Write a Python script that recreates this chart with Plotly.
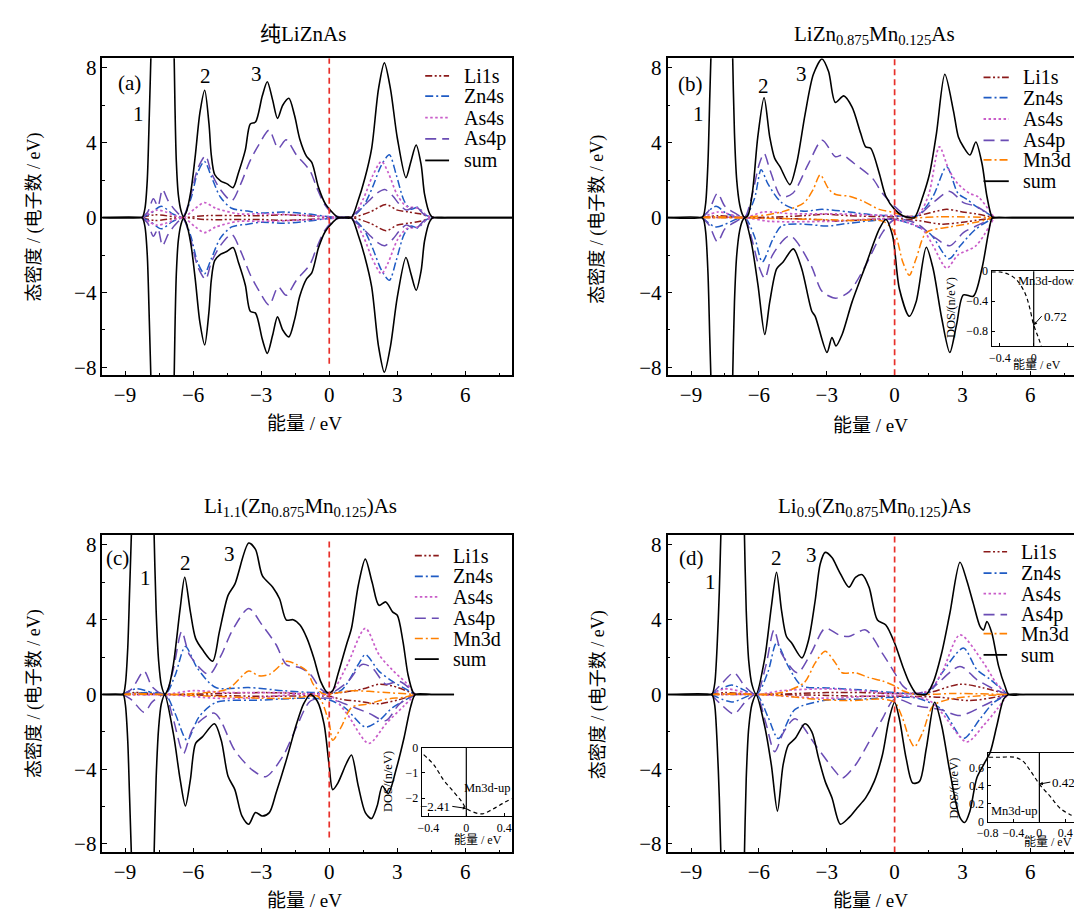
import plotly.graph_objects as go

W, H = 1074, 918
SERIF = "Liberation Serif, Noto Sans CJK SC, serif"

# ---------------- data: (energy eV, DOS) pairs ----------------
# (a) pure LiZnAs (spin symmetric: spin-down = mirror of spin-up)
A_SUM_UP = [(-10.1, 0), (-8.3, 0), (-8.22, 0.05), (-8.12, 0.5), (-8.02, 2.0), (-7.93, 5.5), (-7.86, 8.6),
            (-7.7, 16), (-7.35, 22), (-7.0, 16), (-6.85, 9.5), (-6.8, 6.0), (-6.74, 3.0), (-6.65, 1.2),
            (-6.53, 0.35), (-6.43, 0.05), (-6.3, 0.3), (-6.1, 1.4), (-5.9, 3.35), (-5.7, 5.6), (-5.49, 6.8),
            (-5.3, 5.0), (-5.2, 3.35), (-5.05, 2.3), (-4.78, 1.95), (-4.5, 1.8), (-4.24, 1.6), (-4.0, 2.4),
            (-3.7, 3.6), (-3.48, 5.0), (-3.25, 5.1), (-2.95, 6.5), (-2.73, 7.25), (-2.5, 6.3), (-2.28, 5.3),
            (-2.05, 6.0), (-1.78, 6.37), (-1.53, 5.46), (-1.3, 4.2), (-1.0, 3.27), (-0.77, 2.95), (-0.47, 1.6),
            (-0.17, 0.73), (0.06, 0.38), (0.36, 0.03), (0.6, 0), (0.97, 0), (1.27, 0.9), (1.57, 2.1),
            (1.87, 3.7), (2.17, 6.86), (2.43, 8.26), (2.7, 6.86), (3.0, 4.25), (3.38, 2.13), (3.6, 3.0),
            (3.83, 3.88), (4.05, 2.83), (4.2, 1.25), (4.43, 0.2), (4.58, 0), (5.2, 0), (8.1, 0)]
A_LI_UP = [(-8.25, 0), (-7.7, 0.15), (-6.45, 0), (-5.5, 0.1), (-3.0, 0.1), (-2.0, 0.15), (-1.0, 0.1),
           (0, 0.02), (1.0, 0), (1.8, 0.3), (2.5, 0.7), (3.0, 0.4), (3.5, 0.3), (4.0, 0.2), (4.4, 0.05), (4.6, 0)]
A_ZN_UP = [(-8.25, 0), (-7.9, 0.2), (-7.4, 0.6), (-6.9, 0.2), (-6.45, 0.05), (-6.1, 1.0), (-5.8, 2.4),
           (-5.5, 3.0), (-5.2, 2.2), (-4.8, 1.1), (-4.3, 0.5), (-3.6, 0.35), (-3.0, 0.25), (-2.0, 0.3),
           (-1.0, 0.2), (0, 0.05), (1.0, 0.05), (1.5, 0.6), (1.9, 1.6), (2.3, 2.8), (2.65, 3.35), (2.95, 2.3),
           (3.3, 0.9), (3.6, 0.45), (3.9, 0.55), (4.3, 0.1), (4.6, 0)]
A_AS4S_UP = [(-8.25, 0), (-7.6, 0.4), (-7.2, 0.3), (-6.45, 0), (-5.9, 0.5), (-5.5, 0.8), (-5.0, 0.5),
             (-4.0, 0.2), (-3.0, 0.2), (-1.5, 0.15), (0, 0.05), (1.0, 0.05), (1.5, 1.0), (1.9, 2.2), (2.3, 3.0),
             (2.6, 2.4), (3.0, 1.2), (3.4, 0.6), (3.9, 0.5), (4.3, 0.1), (4.6, 0)]
A_AS4P_UP = [(-8.25, 0), (-8.0, 0.3), (-7.75, 1.0), (-7.55, 0.6), (-7.35, 1.5), (-7.1, 0.9), (-6.8, 0.4),
             (-6.45, 0.05), (-6.1, 1.2), (-5.8, 2.6), (-5.45, 3.3), (-5.2, 2.4), (-4.8, 1.5), (-4.3, 0.9),
             (-3.9, 1.8), (-3.5, 3.0), (-3.1, 3.9), (-2.65, 4.67), (-2.25, 3.7), (-1.9, 4.15), (-1.45, 3.35),
             (-0.85, 2.5), (-0.55, 1.6), (-0.2, 0.7), (0.2, 0.15), (0.6, 0), (1.0, 0.1), (1.4, 0.5),
             (1.75, 0.9), (2.1, 1.3), (2.45, 1.5), (2.8, 1.15), (3.1, 0.7), (3.4, 0.4), (3.8, 0.6),
             (4.2, 0.15), (4.6, 0)]

# (b) LiZn0.875Mn0.125As
B_SUM_UP = [(-10.1, 0), (-8.55, 0), (-8.45, 0.1), (-8.35, 0.8), (-8.25, 3.0), (-8.17, 6.5), (-8.12, 8.6),
            (-7.9, 18), (-7.5, 24), (-7.25, 15), (-7.16, 8.6), (-7.08, 4.5), (-6.98, 2.0), (-6.85, 0.7),
            (-6.72, 0.15), (-6.64, 0.02), (-6.49, 0.1), (-6.27, 1.5), (-6.05, 4.3), (-5.77, 6.4), (-5.52, 4.3),
            (-5.3, 3.16), (-5.07, 2.72), (-4.63, 1.76), (-4.33, 2.9), (-3.96, 5.5), (-3.59, 7.65), (-3.21, 8.47),
            (-2.92, 7.8), (-2.62, 6.15), (-2.25, 6.5), (-1.88, 5.9), (-1.5, 4.5), (-1.28, 3.78), (-1.06, 3.7),
            (-0.68, 2.37), (-0.39, 1.14), (0, 0.44), (0.36, 0.1), (0.65, 0), (0.88, 0), (1.25, 1.14),
            (1.55, 2.37), (1.85, 4.5), (2.22, 7.65), (2.6, 5.7), (2.82, 4.3), (3.04, 3.78), (3.33, 3.34),
            (3.59, 4.04), (3.86, 2.9), (4.08, 1.14), (4.3, 0.05), (4.4, 0), (5.2, 0), (8.1, 0)]
B_SUM_DN = [(-10.1, 0), (-8.55, 0), (-8.45, -0.1), (-8.35, -0.8), (-8.25, -3.0), (-8.17, -6.5), (-8.12, -8.6),
            (-7.9, -18), (-7.5, -24), (-7.25, -15), (-7.16, -8.6), (-7.08, -4.5), (-6.98, -2.0), (-6.85, -0.7),
            (-6.72, -0.15), (-6.64, -0.02), (-6.34, -1.3), (-6.04, -3.6), (-5.74, -6.24), (-5.52, -4.5),
            (-5.21, -2.72), (-4.93, -2.37), (-4.48, -1.67), (-4.11, -2.72), (-3.66, -5.0), (-3.51, -5.27),
            (-2.99, -7.2), (-2.77, -6.4), (-2.59, -6.85), (-2.32, -6.24), (-1.88, -4.5), (-1.28, -2.55),
            (-0.68, -0.62), (-0.39, -0.1), (-0.09, -0.97), (0.21, -3.8), (0.65, -5.27), (0.95, -4.5),
            (1.4, -1.58), (1.7, -2.72), (2.08, -5.36), (2.44, -7.2), (2.74, -5.7), (3.04, -4.13), (3.48, -4.2),
            (3.86, -2.72), (4.15, -0.8), (4.3, -0.05), (4.4, 0), (5.2, 0), (8.1, 0)]
B_MN_UP = [(-8.5, 0), (-8.0, 0.05), (-6.6, 0.02), (-5.0, 0.3), (-4.0, 0.8), (-3.6, 1.5), (-3.29, 2.28),
           (-2.9, 1.5), (-2.6, 1.23), (-2.0, 1.14), (-1.4, 0.88), (-0.68, 0.44), (0, 0.26), (0.65, 0),
           (2.0, 0.05), (4.4, 0)]
B_MN_DN = [(-8.5, 0), (-5, -0.05), (-2, -0.15), (-0.5, -0.2), (0, -0.8), (0.36, -2.37), (0.65, -3.08),
           (0.95, -2.2), (1.4, -0.8), (2.44, -0.5), (3.6, -0.25), (4.4, 0)]
B_AS4P_UP = [(-8.5, 0), (-8.2, 0.4), (-7.83, 1.3), (-7.5, 0.6), (-7.0, 0.2), (-6.64, 0), (-6.3, 1.2),
             (-6.0, 2.8), (-5.77, 3.43), (-5.5, 2.5), (-5.0, 1.1), (-4.5, 1.3), (-3.8, 2.9), (-3.2, 4.13),
             (-2.62, 3.25), (-2.3, 3.34), (-1.8, 2.9), (-0.98, 2.1), (-0.54, 1.3), (0, 0.6), (0.5, 0.1),
             (0.9, 0), (1.7, 0.8), (2.44, 1.4), (3.04, 0.8), (3.6, 0.6), (4.4, 0)]
B_AS4P_DN = [(-8.5, 0), (-8.2, -0.4), (-7.83, -1.3), (-7.5, -0.6), (-7.0, -0.2), (-6.64, 0), (-6.3, -1.2),
             (-6.0, -2.6), (-5.74, -3.25), (-5.4, -2.0), (-4.63, -0.97), (-3.7, -2.55), (-3.2, -3.95),
             (-2.6, -4.3), (-2.0, -3.95), (-1.28, -2.55), (-0.54, -0.8), (0, -0.1), (0.95, -0.3), (1.7, -1.0),
             (2.44, -1.5), (3.04, -0.8), (3.6, -0.45), (4.4, 0)]
B_ZN_UP = [(-8.5, 0), (-7.9, 0.6), (-7.4, 0.2), (-6.64, 0), (-6.2, 1.0), (-5.9, 2.55), (-5.6, 1.8),
           (-5.0, 0.8), (-4.1, 0.35), (-3.2, 0.44), (-2.0, 0.3), (-1.0, 0.15), (0, 0.1), (1.0, 0.1),
           (1.7, 1.14), (2.3, 2.72), (2.8, 1.3), (3.2, 0.97), (3.6, 0.6), (4.0, 0.3), (4.4, 0)]
B_ZN_DN = [(-8.5, 0), (-7.9, -0.5), (-6.64, 0), (-6.2, -1.0), (-5.85, -2.37), (-5.4, -1.2), (-5.0, -0.45),
           (-4.0, -0.35), (-3.0, -0.45), (-2.0, -0.3), (0, -0.1), (0.95, -0.45), (1.6, -0.9), (2.4, -2.2),
           (2.9, -1.5), (3.6, -0.6), (4.4, 0)]
B_AS4S_UP = [(-8.5, 0), (-7.8, 0.3), (-6.64, 0), (-5.8, 0.3), (-4.5, 0.2), (-2.6, 0.2), (0, 0.1), (1.0, 0.1),
             (1.5, 1.2), (1.98, 3.78), (2.4, 2.55), (2.8, 1.8), (3.3, 1.3), (3.7, 1.1), (4.4, 0)]
B_AS4S_DN = [(-8.5, 0), (-6.64, 0), (-5.5, -0.2), (-3, -0.2), (0, -0.1), (1.2, -0.6), (1.7, -1.5),
             (2.3, -2.7), (2.8, -2.0), (3.6, -1.5), (4.4, 0)]
B_LI_UP = [(-8.5, 0), (-7.8, 0.1), (-6.64, 0), (-4, 0.1), (-3.0, 0.18), (-2, 0.1), (0, 0.05), (1.0, 0.1),
           (2.3, 0.44), (3.0, 0.3), (3.6, 0.2), (4.4, 0)]
B_LI_DN = [(-8.5, 0), (-6.64, 0), (-3.5, -0.1), (-2.5, -0.18), (0, -0.05), (1.0, -0.15), (2.1, -0.35),
           (3.0, -0.25), (4.4, 0)]

# (c) Li1.1(Zn0.875Mn0.125)As
C_SUM_UP = [(-10.1, 0), (-9.12, 0), (-9.06, 0.05), (-8.98, 0.6), (-8.88, 2.5), (-8.8, 5.5), (-8.72, 8.6),
            (-8.5, 18), (-8.2, 24), (-7.85, 16), (-7.72, 8.6), (-7.63, 4.5), (-7.52, 1.8), (-7.4, 0.5),
            (-7.25, 0.02), (-7.1, 0.3), (-6.87, 1.6), (-6.57, 4.6), (-6.37, 6.27), (-6.12, 4.42), (-5.89, 3.0),
            (-5.59, 2.4), (-5.14, 1.78), (-4.84, 3.36), (-4.46, 5.3), (-4.16, 5.9), (-3.55, 8.1), (-3.25, 7.76),
            (-2.95, 6.36), (-2.49, 5.74), (-2.19, 5.12), (-1.89, 3.98), (-1.59, 4.0), (-1.28, 3.7), (-0.98, 3.0),
            (-0.68, 1.95), (-0.38, 0.7), (-0.08, 0.1), (0.15, 0.2), (0.38, 1.07), (0.76, 2.66), (0.98, 3.54),
            (1.28, 5.83), (1.59, 7.24), (1.89, 6.0), (2.19, 4.77), (2.49, 4.95), (2.79, 4.42), (3.0, 4.24),
            (3.25, 2.83), (3.47, 1.07), (3.7, 0.1), (3.8, 0), (4.5, 0), (5.5, 0)]
C_SUM_DN = [(-10.1, 0), (-9.12, 0), (-9.06, -0.05), (-8.98, -0.6), (-8.88, -2.5), (-8.8, -5.5), (-8.72, -8.6),
            (-8.5, -18), (-8.2, -24), (-7.85, -16), (-7.72, -8.6), (-7.63, -4.5), (-7.52, -1.8), (-7.4, -0.5),
            (-7.25, -0.02), (-6.87, -2.1), (-6.57, -4.56), (-6.34, -5.97), (-6.12, -4.56), (-5.89, -2.62),
            (-5.59, -2.27), (-5.06, -1.57), (-4.76, -2.45), (-4.46, -4.38), (-4.16, -5.09), (-3.85, -6.5),
            (-3.55, -6.94), (-3.25, -6.32), (-2.95, -6.5), (-2.64, -6.32), (-2.34, -5.26), (-1.89, -3.5),
            (-1.44, -1.57), (-1.13, -0.5), (-0.83, 0), (-0.53, -0.35), (-0.23, -1.57), (0.0, -3.86),
            (0.15, -5.09), (0.38, -4.74), (0.76, -3.68), (0.98, -3.24), (1.28, -4.9), (1.59, -6.32),
            (1.86, -6.64), (2.11, -5.97), (2.34, -4.9), (2.6, -5.3), (2.95, -4.0), (3.3, -2.3), (3.6, -0.6),
            (3.8, 0), (4.5, 0), (5.5, 0)]
C_MN_UP = [(-9.1, 0), (-8.5, 0.05), (-7.25, 0), (-6.0, 0.05), (-4.46, 0.3), (-3.55, 1.25), (-3.1, 1.0),
           (-2.64, 1.07), (-1.88, 1.78), (-1.44, 1.6), (-0.98, 1.25), (-0.68, 0.5), (-0.23, 0.02), (0.98, 0.2),
           (2.5, 0.1), (3.8, 0)]
C_MN_DN = [(-9.1, 0), (-7.25, 0), (-5.0, -0.1), (-3.0, -0.2), (-1.5, -0.2), (-0.5, -0.1), (0.0, -1.57),
           (0.15, -2.45), (0.53, -1.74), (0.98, -0.7), (1.74, -0.5), (2.5, -0.25), (3.3, -0.15), (3.8, 0)]
C_AS4P_UP = [(-9.1, 0), (-8.7, 0.3), (-8.16, 1.25), (-7.8, 0.4), (-7.25, 0), (-6.9, 1.2), (-6.5, 3.36),
             (-6.15, 2.1), (-5.3, 1.07), (-4.76, 2.1), (-4.3, 3.36), (-3.55, 4.6), (-2.95, 3.7), (-2.34, 2.66),
             (-1.89, 1.6), (-1.28, 1.43), (-0.83, 1.07), (-0.38, 0.3), (0.0, 0.05), (0.83, 0.7), (1.44, 1.6),
             (1.89, 1.43), (2.49, 0.55), (3.1, 0.7), (3.8, 0)]
C_AS4P_DN = [(-9.1, 0), (-8.7, -0.3), (-8.16, -0.95), (-7.8, -0.4), (-7.25, 0), (-6.9, -1.2), (-6.42, -3.15),
             (-6.0, -1.8), (-5.06, -1.0), (-4.16, -3.0), (-3.4, -4.03), (-2.8, -4.4), (-2.04, -3.3),
             (-1.44, -1.74), (-0.83, -0.35), (0.0, -0.2), (0.68, -0.5), (1.74, -1.0), (2.49, -1.4), (3.1, -0.5),
             (3.8, 0)]
C_ZN_UP = [(-9.1, 0), (-8.5, 0.3), (-7.25, 0), (-6.8, 1.0), (-6.34, 2.57), (-5.82, 1.42), (-5.0, 0.37),
           (-3.55, 0.37), (-2.0, 0.2), (-0.5, 0.1), (0.5, 0.2), (1.28, 1.6), (1.59, 2.13), (2.19, 1.25),
           (2.79, 0.7), (3.8, 0)]
C_ZN_DN = [(-9.1, 0), (-7.25, 0), (-6.8, -1.0), (-6.27, -2.45), (-5.74, -1.2), (-5.0, -0.43), (-3.0, -0.3),
           (-1.0, -0.2), (0.0, -0.3), (0.68, -0.7), (1.59, -1.74), (2.19, -1.4), (2.79, -0.7), (3.8, 0)]
C_AS4S_UP = [(-9.1, 0), (-7.25, 0), (-6.0, 0.2), (-4.5, 0.1), (-2.0, 0.1), (0, 0.05), (0.76, 1.5),
             (1.59, 3.54), (2.19, 2.13), (2.79, 1.3), (3.4, 0.6), (3.8, 0)]
C_AS4S_DN = [(-9.1, 0), (-7.25, 0), (-5, -0.2), (-3.5, -0.2), (0, -0.05), (0.76, -1.0), (1.74, -2.62),
             (2.5, -1.57), (3.3, -0.6), (3.8, 0)]
C_LI_UP = [(-9.1, 0), (-8.6, 0.1), (-7.25, 0), (-3.0, 0.1), (-1.0, 0.05), (0.5, 0.1), (1.5, 0.3),
           (2.19, 0.55), (2.8, 0.45), (3.8, 0)]
C_LI_DN = [(-9.1, 0), (-7.25, 0), (-3.0, -0.1), (0, -0.1), (0.5, -0.25), (1.5, -0.4), (2.19, -0.5),
           (3.0, -0.3), (3.8, 0)]

# (d) Li0.9(Zn0.875Mn0.125)As
D_SUM_UP = [(-10.1, 0), (-8.1, 0), (-8.05, 0.05), (-7.95, 0.6), (-7.85, 2.5), (-7.75, 5.5), (-7.68, 8.6),
            (-7.45, 18), (-7.1, 24), (-6.75, 16), (-6.64, 8.6), (-6.56, 4.5), (-6.45, 1.8), (-6.3, 0.5),
            (-6.12, 0.02), (-5.75, 1.87), (-5.45, 4.69), (-5.22, 6.54), (-5.0, 4.5), (-4.78, 3.1), (-4.55, 2.75),
            (-4.1, 1.96), (-3.8, 2.93), (-3.51, 5.04), (-3.29, 6.98), (-3.07, 7.6), (-2.77, 7.33), (-2.47, 6.63),
            (-2.02, 5.74), (-1.73, 6.27), (-1.43, 6.41), (-1.13, 5.74), (-0.76, 3.98), (-0.39, 3.72), (0.0, 2.75),
            (0.36, 1.5), (0.65, 0.63), (0.95, 0.05), (1.1, 0), (1.4, 0), (1.7, 0.63), (2.08, 2.22), (2.44, 4.33),
            (2.89, 7.07), (3.19, 6.1), (3.48, 4.86), (3.78, 3.63), (3.93, 3.45), (4.08, 3.9), (4.3, 3.28),
            (4.6, 1.5), (4.9, 0.37), (5.04, 0), (5.8, 0), (8.1, 0)]
D_SUM_DN = [(-10.1, 0), (-8.1, 0), (-8.05, -0.05), (-7.95, -0.6), (-7.85, -2.5), (-7.75, -5.5), (-7.68, -8.6),
            (-7.45, -18), (-7.1, -24), (-6.75, -16), (-6.64, -8.6), (-6.56, -4.5), (-6.45, -1.8), (-6.3, -0.5),
            (-6.12, -0.02), (-5.75, -1.66), (-5.45, -3.77), (-5.18, -6.24), (-4.93, -3.77), (-4.7, -2.71),
            (-4.4, -2.36), (-3.96, -1.57), (-3.66, -2.0), (-3.36, -3.42), (-3.07, -4.65), (-2.77, -5.53),
            (-2.4, -6.94), (-2.02, -6.59), (-1.65, -6.06), (-1.28, -5.53), (-0.9, -4.65), (-0.54, -3.24),
            (-0.24, -1.3), (0.0, -0.42), (0.21, -1.3), (0.51, -3.42), (0.8, -4.74), (1.1, -4.65), (1.4, -2.89),
            (1.77, -0.42), (2.08, -1.66), (2.44, -4.12), (2.89, -6.59), (3.1, -6.85), (3.33, -6.24),
            (3.63, -4.48), (3.93, -3.77), (4.23, -3.07), (4.52, -1.66), (4.82, -0.25), (5.04, 0), (5.8, 0),
            (8.1, 0)]
D_MN_UP = [(-8.1, 0), (-7.0, 0.05), (-6.12, 0), (-5.0, 0.1), (-4.0, 0.63), (-3.51, 1.69), (-3.07, 2.31),
           (-2.62, 1.69), (-2.32, 1.16), (-1.73, 1.16), (-1.13, 0.9), (-0.54, 0.72), (0, 0.46), (0.36, 0.2),
           (0.95, 0), (2.5, 0.05), (5.0, 0)]
D_MN_DN = [(-8.1, 0), (-6.12, 0), (-5, -0.07), (-3.5, -0.25), (-2.0, -0.33), (-0.54, -0.25), (0, -0.42),
           (0.36, -1.3), (0.65, -2.36), (0.88, -2.8), (1.25, -2.0), (1.7, -0.6), (2.44, -0.25), (3.8, -0.07),
           (5.0, 0)]
D_AS4P_UP = [(-8.1, 0), (-7.7, 0.5), (-7.1, 1.16), (-6.6, 0.4), (-6.12, 0), (-5.7, 1.5), (-5.33, 3.45),
             (-5.0, 2.2), (-4.3, 1.16), (-3.7, 2.2), (-3.07, 3.54), (-2.47, 3.19), (-2.02, 3.1), (-1.28, 3.45),
             (-0.54, 2.2), (0.0, 1.16), (0.36, 0.46), (0.9, 0.05), (1.6, 0.3), (2.89, 1.5), (3.63, 0.8),
             (4.37, 0.3), (5.0, 0)]
D_AS4P_DN = [(-8.1, 0), (-7.7, -0.5), (-7.1, -1.04), (-6.6, -0.4), (-6.12, 0), (-5.7, -1.5), (-5.3, -3.07),
             (-4.9, -2.0), (-4.4, -1.3), (-3.5, -2.71), (-2.62, -4.12), (-2.32, -4.48), (-1.73, -3.77),
             (-1.13, -2.54), (-0.54, -1.3), (0.0, -0.25), (0.95, -0.6), (2.0, -0.8), (2.89, -1.13),
             (3.93, -0.6), (4.52, -0.25), (5.0, 0)]
D_ZN_UP = [(-8.1, 0), (-7.2, 0.5), (-6.12, 0), (-5.6, 1.2), (-5.22, 2.75), (-4.7, 1.5), (-4.1, 0.46),
           (-3.0, 0.35), (-1.5, 0.25), (0, 0.1), (1.5, 0.1), (2.1, 1.16), (3.04, 2.48), (3.63, 1.34),
           (4.23, 0.8), (5.0, 0)]
D_ZN_DN = [(-8.1, 0), (-7.2, -0.4), (-6.12, 0), (-5.6, -1.2), (-5.14, -2.36), (-4.4, -0.8), (-3.0, -0.3),
           (-1.5, -0.25), (0, -0.15), (1.0, -0.2), (2.1, -0.8), (3.04, -2.36), (3.78, -1.3), (4.37, -0.45),
           (5.0, 0)]
D_AS4S_UP = [(-8.1, 0), (-7.5, 0.3), (-6.12, 0), (-5.0, 0.2), (-3.0, 0.3), (-1.0, 0.15), (0, 0.05),
             (1.5, 0.2), (2.1, 1.2), (2.89, 3.19), (3.93, 1.69), (4.5, 0.6), (5.0, 0)]
D_AS4S_DN = [(-8.1, 0), (-6.12, 0), (-3.0, -0.2), (0, -0.05), (1.5, -0.3), (2.1, -1.0), (3.19, -2.54),
             (3.93, -1.66), (4.52, -0.8), (5.0, 0)]
D_LI_UP = [(-8.1, 0), (-7.5, 0.1), (-6.12, 0), (-3.0, 0.1), (-1.5, 0.1), (0, 0.05), (1.5, 0.1),
           (2.89, 0.55), (3.93, 0.35), (5.0, 0)]
D_LI_DN = [(-8.1, 0), (-6.12, 0), (-3.0, -0.05), (-1.5, -0.1), (0.5, -0.1), (2.0, -0.15), (3.33, -0.33),
           (4.2, -0.2), (5.0, 0)]

# insets: Mn3d near the Fermi level
INSET_B = [(-0.5, -0.01), (-0.4, -0.01), (-0.3, -0.04), (-0.2, -0.12), (-0.1, -0.3), (-0.05, -0.48),
           (0.0, -0.72), (0.05, -0.87), (0.09, -1.0)]
INSET_C = [(-0.45, -0.27), (-0.34, -0.69), (-0.24, -1.28), (-0.136, -1.74), (-0.05, -2.13), (0.0, -2.41),
           (0.07, -2.55), (0.17, -2.63), (0.27, -2.46), (0.38, -2.22), (0.48, -2.02)]
INSET_D = [(-0.78, 0.72), (-0.6, 0.72), (-0.39, 0.72), (-0.26, 0.68), (-0.14, 0.57), (0.0, 0.42),
           (0.17, 0.28), (0.32, 0.15), (0.47, 0.08), (0.55, 0.06)]

NAMES = {'li': 'Li1s', 'zn': 'Zn4s', 'as4s': 'As4s', 'as4p': 'As4p', 'mn': 'Mn3d', 'sum': 'sum'}
COLORS = {'li': '#8B1A1A', 'zn': '#1F5BC4', 'as4s': '#C95DC9', 'as4p': '#6A4CB4', 'mn': '#FF8000', 'sum': '#000000'}
DASH = {'li': '7px,2.5px,2px,2.5px,2px,2.5px', 'zn': '8px,3px,2px,3px', 'as4s': '2.5px,2.5px',
        'as4p': '11px,6px', 'mn': '8px,3px,2px,3px', 'sum': 'solid'}
WIDTH = {'li': 1.5, 'zn': 1.5, 'as4s': 1.7, 'as4p': 1.5, 'mn': 1.5, 'sum': 1.6}

neg = lambda pts: [(e, -v) for e, v in pts]
PANELS = [
    ('', {'li': (A_LI_UP, neg(A_LI_UP)), 'zn': (A_ZN_UP, neg(A_ZN_UP)), 'as4s': (A_AS4S_UP, neg(A_AS4S_UP)),
          'as4p': (A_AS4P_UP, neg(A_AS4P_UP)), 'sum': (A_SUM_UP, neg(A_SUM_UP))}),
    ('2', {'li': (B_LI_UP, B_LI_DN), 'zn': (B_ZN_UP, B_ZN_DN), 'as4s': (B_AS4S_UP, B_AS4S_DN),
           'as4p': (B_AS4P_UP, B_AS4P_DN), 'mn': (B_MN_UP, B_MN_DN), 'sum': (B_SUM_UP, B_SUM_DN)}),
    ('3', {'li': (C_LI_UP, C_LI_DN), 'zn': (C_ZN_UP, C_ZN_DN), 'as4s': (C_AS4S_UP, C_AS4S_DN),
           'as4p': (C_AS4P_UP, C_AS4P_DN), 'mn': (C_MN_UP, C_MN_DN), 'sum': (C_SUM_UP, C_SUM_DN)}),
    ('4', {'li': (D_LI_UP, D_LI_DN), 'zn': (D_ZN_UP, D_ZN_DN), 'as4s': (D_AS4S_UP, D_AS4S_DN),
           'as4p': (D_AS4P_UP, D_AS4P_DN), 'mn': (D_MN_UP, D_MN_DN), 'sum': (D_SUM_UP, D_SUM_DN)}),
]

fig = go.Figure()


def fx(x):
    return x / W


def fy(y):
    return 1 - y / H


for suf, curves in PANELS:
    for key, (up, dn) in curves.items():
        for pts in (up, dn):
            fig.add_trace(go.Scatter(
                x=[p[0] for p in pts], y=[p[1] for p in pts], mode='lines',
                line=dict(color=COLORS[key], dash=DASH[key], width=WIDTH[key], shape='spline', smoothing=0.8),
                xaxis='x' + suf, yaxis='y' + suf, showlegend=False, hoverinfo='skip'))

for suf, pts in (('5', INSET_B), ('6', INSET_C), ('7', INSET_D)):
    fig.add_trace(go.Scatter(x=[p[0] for p in pts], y=[p[1] for p in pts], mode='lines',
                             line=dict(color='black', dash='4px,3px', width=1.2, shape='spline'),
                             xaxis='x' + suf, yaxis='y' + suf, showlegend=False, hoverinfo='skip'))

# ---------------- axes ----------------
TOP = [fy(374), fy(52)]
BOT = [fy(858.5), fy(536)]
LEFTX = [fx(92.3), fx(506.3)]
RIGHTX = [fx(663.3), 1.0]


def main_x(domain, rng, anchor):
    return dict(domain=domain, range=rng, anchor=anchor, showline=True, linecolor='black', linewidth=1.5,
                mirror=True, ticks='inside', ticklen=5, tickwidth=1.2, tickcolor='black', tickmode='linear',
                tick0=0, dtick=3, showgrid=False, zeroline=False,
                tickfont=dict(family=SERIF, size=21, color='black'),
                minor=dict(ticks='inside', ticklen=3, tickwidth=1, tickcolor='black', dtick=1.5, tick0=0,
                           showgrid=False))


def main_y(domain, rng, anchor, mirror):
    return dict(domain=domain, range=rng, anchor=anchor, showline=True, linecolor='black', linewidth=1.5,
                mirror=mirror, ticks='inside', ticklen=5, tickwidth=1.2, tickcolor='black', tickmode='linear',
                tick0=0, dtick=4, showgrid=False, zeroline=False,
                tickfont=dict(family=SERIF, size=21, color='black'),
                minor=dict(ticks='inside', ticklen=3, tickwidth=1, tickcolor='black', dtick=2, tick0=0,
                           showgrid=False))


def inset_ax(domain, rng, anchor, dtick, mirror, tick0=0):
    return dict(domain=domain, range=rng, anchor=anchor, showline=True, linecolor='black', linewidth=1.2,
                mirror=mirror, ticks='inside', ticklen=3, tickwidth=1, tickcolor='black', tickmode='linear',
                tick0=tick0, dtick=dtick, showgrid=False, zeroline=False,
                tickfont=dict(family=SERIF, size=12, color='black'))


layout = dict(
    width=W, height=H, margin=dict(l=0, r=0, t=0, b=0), paper_bgcolor='white', plot_bgcolor='rgba(0,0,0,0)',
    showlegend=False, font=dict(family=SERIF, color='black'),
    xaxis=main_x(LEFTX, [-10.0, 8.06], 'y'), yaxis=main_y(TOP, [-8.42, 8.51], 'x', True),
    xaxis2=main_x(RIGHTX, [-10.04, 7.93], 'y2'), yaxis2=main_y(TOP, [-8.42, 8.51], 'x2', False),
    xaxis3=main_x(LEFTX, [-10.0, 8.06], 'y3'), yaxis3=main_y(BOT, [-8.45, 8.54], 'x3', True),
    xaxis4=main_x(RIGHTX, [-10.04, 7.93], 'y4'), yaxis4=main_y(BOT, [-8.45, 8.54], 'x4', False),
    xaxis5=inset_ax([fx(990.7), 1.0], [-0.5, 0.478], 'y5', 0.4, True),
    yaxis5=inset_ax([fy(344.3), fy(268.3)], [-1.0, 0.0], 'x5', 0.4, False),
    xaxis6=inset_ax([fx(415), fx(506)], [-0.47, 0.48], 'y6', 0.4, True),
    yaxis6=inset_ax([fy(821.7), fy(752.3)], [-2.72, 0.0], 'x6', 1, True),
    xaxis7=inset_ax([fx(986.7), 1.0], [-0.8, 0.535], 'y7', 0.4, True),
    yaxis7=inset_ax([fy(827.3), fy(757.3)], [0.0, 0.77], 'x7', 0.2, False),
)
fig.update_layout(**layout)

shapes = []
# Fermi level (red dashed) lines
for suf, y0, y1 in (('', -7.8, 8.51), ('2', -8.42, 8.51), ('3', -7.65, 8.3), ('4', -8.45, 8.54)):
    shapes.append(dict(type='line', xref='x' + suf, yref='y' + suf, x0=0, x1=0, y0=y0, y1=y1,
                       line=dict(color='#E8302A', width=1.7, dash='6px,4px')))
# inset vertical lines at E = 0
for suf in ('5', '6', '7'):
    shapes.append(dict(type='line', xref='x' + suf, yref='y' + suf + ' domain', x0=0, x1=0, y0=0, y1=1,
                       line=dict(color='black', width=1.2)))

annotations = []


def text(x, y, s, size=20, xanchor='center', angle=0):
    annotations.append(dict(x=fx(x), y=fy(y), xref='paper', yref='paper', text=s, showarrow=False,
                            xanchor=xanchor, yanchor='middle', textangle=angle,
                            font=dict(family=SERIF, size=size, color='black')))


# manual legends (sample line + label)
LEGENDS = [
    (418.5, 442.6, 455.3, [70, 90.6, 112.3, 133.9, 155.8], ['li', 'zn', 'as4s', 'as4p', 'sum']),
    (982.6, 1008.1, 1020, [71.5, 92.1, 113.7, 135.4, 155.3, 176.9], ['li', 'zn', 'as4s', 'as4p', 'mn', 'sum']),
    (408.0, 432.2, 444.3, [557.1, 578.1, 599.0, 620.7, 641.3, 662.2], ['li', 'zn', 'as4s', 'as4p', 'mn', 'sum']),
    (982.6, 1006.4, 1018.3, [553.2, 574.8, 595.7, 617.0, 636.3, 657.9], ['li', 'zn', 'as4s', 'as4p', 'mn', 'sum']),
]
for x0, x1, xt, rows, keys in LEGENDS:
    for yy, k in zip(rows, keys):
        shapes.append(dict(type='line', xref='paper', yref='paper', x0=fx(x0), x1=fx(x1), y0=fy(yy), y1=fy(yy),
                           line=dict(color=COLORS[k], dash=DASH[k], width=WIDTH[k] + 0.2)))
        text(xt, yy, NAMES[k], size=20, xanchor='left')

# titles
text(295, 27, '纯LiZnAs', size=21)
text(872, 28, 'LiZn<sub>0.875</sub>Mn<sub>0.125</sub>As', size=21)
text(292, 508, 'Li<sub>1.1</sub>(Zn<sub>0.875</sub>Mn<sub>0.125</sub>)As', size=21)
text(872, 508, 'Li<sub>0.9</sub>(Zn<sub>0.875</sub>Mn<sub>0.125</sub>)As', size=21)
# axis titles
for xc, yc in ((297, 423), (868, 425), (297, 907), (868, 907)):
    text(xc, yc, '能量 / eV', size=19)
for xc, yc in ((24, 213), (593, 215), (24, 697), (593, 698)):
    text(xc, yc, '态密度 / (电子数 / eV)', size=18, angle=-90)
# panel letters and peak numbers
for x, y, s in ((119.5, 77.3, '(a)'), (129, 109, '1'), (197, 70, '2'), (248, 68.3, '3'),
                (687, 78.3, '(b)'), (695, 108.3, '1'), (760.7, 80, '2'), (799, 68.3, '3'),
                (107.8, 560, '(c)'), (136, 580, '1'), (176.6, 565, '2'), (220.3, 555, '3'),
                (688, 559.3, '(d)'), (707, 584, '1'), (773.2, 560, '2'), (809, 556, '3')):
    text(x, y, s, size=21)

# inset texts
text(1015, 278.3, 'Mn3d-down', size=12.5, xanchor='left')
text(481.7, 792.7, 'Mn3d-up', size=12.5)
text(1014, 816, 'Mn3d-up', size=12.5)
for xc, yc in ((1036.7, 364), (471.7, 846), (1048, 848)):
    text(xc, yc, '能量 / eV', size=12)
for xc, yc in ((950.5, 305), (380.2, 786.7), (952.6, 793)):
    text(xc, yc, 'DOS/(n/eV)', size=12.5, angle=-90)

for ref, x, y, s, ax, ay, xa in (('5', 0, -0.72, '0.72', 8, -9, 'left'),
                                 ('6', 0, -2.41, '−2.41', -14, -2, 'right'),
                                 ('7', 0, 0.42, '0.42', 11, -2, 'left')):
    annotations.append(dict(x=x, y=y, xref='x' + ref, yref='y' + ref, text=s, showarrow=True, arrowhead=2,
                            arrowsize=0.7, arrowwidth=1, arrowcolor='black', ax=ax, ay=ay, xanchor=xa,
                            font=dict(family=SERIF, size=13, color='black')))

fig.update_layout(shapes=shapes, annotations=annotations)
fig.write_html("out.html", config={'displayModeBar': False},
               post_script="document.body.style.margin='0';")
